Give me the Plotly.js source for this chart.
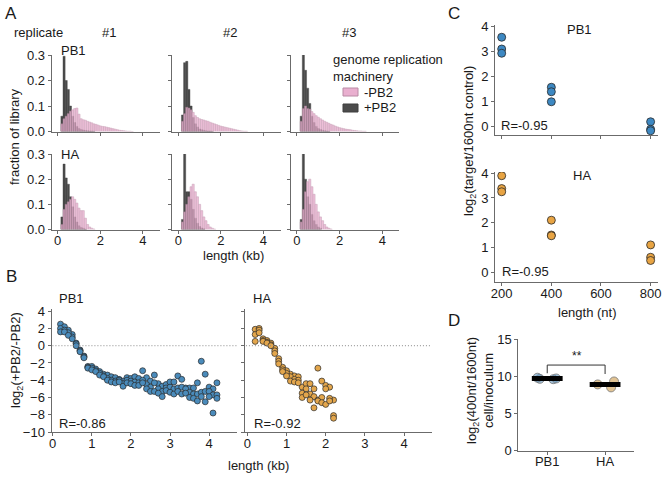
<!DOCTYPE html>
<html><head><meta charset="utf-8">
<script src="https://cdn.plot.ly/plotly-3.0.1.min.js"></script>
<style>html,body{margin:0;padding:0;background:#fff}#chart{width:666px;height:477px}</style>
</head><body><div id="chart"></div>
<script>
// ---------- Panel A: length histograms (fraction of library per 0.1 kb bin) ----------
const histLengthKb = [0.2,0.3,0.4,0.5,0.6,0.7,0.8,0.9,1.0,1.1,1.2,1.3,1.4,1.5,1.6,1.7,1.8,1.9,2.0,2.1,2.2,2.3,2.4,2.5,2.6,2.7,2.8,2.9,3.0,3.1,3.2,3.3,3.4,3.5];
const pb1Rep1Minus = [0.03,0.05,0.06,0.07,0.08,0.085,0.09,0.092,0.068,0.05,0.046,0.044,0.04,0.037,0.034,0.03,0.028,0.025,0.022,0.02,0.019,0.017,0.015,0.013,0.011,0.009,0.007,0.005,0.004,0.003,0.002,0.001,0.001,0];
const pb1Rep1Plus  = [0.06,0.295,0.2,0.165,0.1,0.06,0.035,0.02,0.012,0.008,0.006,0.004,0.003,0.002,0.002,0.001];
const pb1Rep2Minus = [0.04,0.07,0.095,0.092,0.085,0.075,0.062,0.055,0.05,0.047,0.045,0.042,0.04,0.036,0.033,0.03,0.027,0.024,0.021,0.019,0.017,0.015,0.013,0.011,0.009,0.007,0.005,0.003,0.002,0.001,0.001];
const pb1Rep2Plus  = [0.065,0.27,0.275,0.165,0.1,0.055,0.03,0.018,0.01,0.007,0.005,0.003,0.002,0.002,0.001];
const pb1Rep3Minus = [0.04,0.09,0.1,0.09,0.088,0.078,0.07,0.062,0.056,0.05,0.045,0.04,0.036,0.032,0.028,0.025,0.021,0.018,0.015,0.013,0.011,0.009,0.008,0.007,0.005,0.004,0.003,0.002,0.002,0.001,0.001];
const pb1Rep3Plus  = [0.06,0.31,0.24,0.17,0.11,0.06,0.035,0.02,0.012,0.008,0.005,0.003,0.002,0.001];
const haRep1Minus  = [0.02,0.08,0.1,0.11,0.12,0.13,0.12,0.105,0.085,0.075,0.075,0.045,0.02,0.01,0.005,0.002];
const haRep1Plus   = [0.05,0.26,0.205,0.18,0.13,0.09,0.05,0.03,0.015,0.008,0.005,0.002];
const haRep2Minus  = [0.03,0.07,0.1,0.13,0.17,0.18,0.15,0.13,0.1,0.075,0.05,0.035,0.02,0.01,0.005,0.002];
const haRep2Plus   = [0.04,0.31,0.15,0.15,0.12,0.08,0.045,0.025,0.012,0.006,0.003];
const haRep3Minus  = [0.03,0.08,0.15,0.19,0.2,0.17,0.14,0.1,0.07,0.05,0.035,0.02,0.01,0.005,0.002];
const haRep3Plus   = [0.04,0.32,0.2,0.13,0.1,0.06,0.035,0.02,0.01,0.005];
const replicateLabels = ['#1','#2','#3'];
const segmentLabels = ['PB1','HA'];
const legendLabels = ['-PB2','+PB2'];

// ---------- Panel B: log2(+PB2/-PB2) per length, three replicates ----------
const pb1LengthKb = [0.2,0.3,0.4,0.5,0.6,0.7,0.8,0.9,1.0,1.1,1.2,1.3,1.4,1.5,1.6,1.7,1.8,1.9,2.0,2.1,2.2,2.3,2.4,2.5,2.6,2.7,2.8,2.9,3.0,3.1,3.2,3.3,3.4,3.5,3.6,3.7,3.8,3.9,4.0,4.1,4.2];
const pb1RatioA = [2.5,2.2,1.8,1.3,0.3,-0.5,-1.2,-2.4,-2.4,-2.7,-3.0,-3.3,-3.4,-3.6,-3.7,-3.9,-4.1,-3.7,-3.8,-3.6,-3.8,-2.9,-3.7,-4.1,-3.4,-4.4,-4.7,-4.5,-4.2,-4.2,-3.5,-3.9,-4.9,-4.9,-4.9,-4.3,-1.8,-3.3,-4.8,-5.0,-4.3];
const pb1RatioB = [2.0,1.8,1.5,1.0,0.2,-0.6,-1.3,-2.5,-2.6,-2.9,-3.2,-3.5,-3.8,-4.0,-4.1,-4.0,-4.4,-4.0,-4.1,-4.2,-4.3,-4.0,-4.5,-4.8,-4.3,-5.0,-5.3,-4.9,-4.8,-5.0,-4.9,-4.8,-5.0,-5.4,-5.6,-5.6,-5.4,-5.3,-5.3,-5.7,-5.7];
const pb1RatioC = [1.6,1.6,1.2,0.8,0.0,-0.7,-1.4,-2.6,-2.8,-3.0,-3.4,-3.6,-4.0,-4.2,-4.3,-4.2,-4.7,-4.3,-4.4,-4.6,-4.6,-4.3,-5.0,-5.3,-5.3,-5.5,-5.9,-5.2,-5.4,-5.6,-5.3,-5.6,-5.5,-6.0,-6.1,-6.4,-5.9,-6.5,-5.9,-7.8,-6.1];
const haLengthKb = [0.2,0.3,0.4,0.5,0.6,0.7,0.8,0.9,1.0,1.1,1.2,1.3,1.4,1.5,1.6,1.7,1.8,1.9,2.0,2.1,2.2];
const haRatioA = [1.9,2.0,0.8,0.6,0.3,-0.3,-1.5,-2.5,-2.9,-3.3,-3.5,-3.6,-4.8,-4.4,-4.4,-5.0,-2.6,-4.1,-4.6,-4.8,-6.3];
const haRatioB = [1.3,1.8,0.6,0.4,0.1,-0.6,-1.8,-2.8,-3.2,-3.6,-3.9,-4.0,-5.5,-5.0,-5.6,-5.9,-6.3,-6.0,-5.0,-6.1,-8.1];
const haRatioC = [0.5,1.5,0.5,0.3,0.0,-0.9,-2.1,-3.0,-3.5,-4.1,-4.2,-4.3,-6.0,-5.7,-6.3,-7.2,-6.4,-6.6,-6.8,-6.4,-8.4];
const corrB = ['R=-0.86','R=-0.92'];

// ---------- Panel C: log2(target/1600nt control) vs length (nt) ----------
const cLengthNt = [200,200,200,400,400,400,800,800,800];
const cPB1 = [3.55,3.08,2.91,1.55,1.37,0.97,0.17,-0.13,-0.19];
const cHA  = [3.9,3.38,3.25,2.1,1.5,1.47,1.1,0.6,0.47];
const corrC = ['R=-0.95','R=-0.95'];

// ---------- Panel D: log2(400nt/1600nt) cell/inoculum ----------
const dCategories = ['PB1','HA'];
const dPB1 = [9.8,9.6,9.7,9.65];
const dHA  = [9.3,8.9,8.5];
const dSignif = '**';

// ---------- helpers ----------
const W = 666, H = 477;
const px = v => v / W;
const py = v => 1 - v / H;
const FONT = 'Liberation Sans, Arial, Helvetica, sans-serif';
const TXT = '#1a1a1a';
const AX = '#6b6b6b';
const PINK = '#e9afcf', PINKLINE = '#b98aa4', DARK = '#4b4b4b';
const BLUE = '#4a8bbb', ORANGE = '#e3a64c';
const CBLUE = '#3d88c2', CORANGE = '#e8a443';

const baseAx = {showgrid:false, zeroline:false, showline:true, linecolor:AX, linewidth:1,
  ticks:'outside', ticklen:3, tickwidth:1, tickcolor:AX,
  tickfont:{size:13, color:TXT, family:FONT}, fixedrange:true};
function xa(l, r, range, anchor, extra) {
  return Object.assign({}, baseAx, {domain:[px(l), px(r)], range, anchor, ticklabelstandoff:-4}, extra || {});
}
function ya(bottom, top, range, anchor, extra) {
  return Object.assign({}, baseAx, {domain:[py(bottom), py(top)], range, anchor}, extra || {});
}
function note(text, x, y, o) {
  o = o || {};
  return {text, xref:'paper', yref:'paper', x:px(x), y:py(y), showarrow:false,
    xanchor:o.xa || 'left', yanchor:'middle', textangle:o.rot || 0,
    font:{size:o.size || 13, color:TXT, family:FONT}};
}

const traces = [];
// Panel A
const histSets = [
  [pb1Rep1Minus, pb1Rep1Plus], [pb1Rep2Minus, pb1Rep2Plus], [pb1Rep3Minus, pb1Rep3Plus],
  [haRep1Minus, haRep1Plus], [haRep2Minus, haRep2Plus], [haRep3Minus, haRep3Plus]
];
histSets.forEach((pair, i) => {
  const n = i + 1;
  const xr = n === 1 ? 'x' : 'x' + n, yr = n === 1 ? 'y' : 'y' + n;
  traces.push({type:'bar', x:histLengthKb, y:pair[1], width:0.1, xaxis:xr, yaxis:yr,
    name:legendLabels[1], marker:{color:DARK, line:{color:'#3f3f3f', width:0.4}}, hoverinfo:'x+y'});
  traces.push({type:'bar', x:histLengthKb, y:pair[0], width:0.1, xaxis:xr, yaxis:yr,
    name:legendLabels[0], opacity:0.8, marker:{color:PINK, line:{color:PINKLINE, width:0.5}}, hoverinfo:'x+y'});
});
// Panel B
const bMarker = (c) => ({size:6, color:c, line:{color:'#2a2a2a', width:0.7}});
[pb1RatioA, pb1RatioB, pb1RatioC].forEach(r => traces.push({type:'scatter', mode:'markers',
  x:pb1LengthKb, y:r, xaxis:'x7', yaxis:'y7', marker:bMarker(BLUE), name:'PB1'}));
[haRatioA, haRatioB, haRatioC].forEach(r => traces.push({type:'scatter', mode:'markers',
  x:haLengthKb, y:r, xaxis:'x8', yaxis:'y8', marker:bMarker(ORANGE), name:'HA'}));
// Panel C
traces.push({type:'scatter', mode:'markers', x:cLengthNt, y:cPB1, xaxis:'x9', yaxis:'y9',
  marker:{size:8, color:CBLUE, line:{color:'#2a2a2a', width:0.8}}, name:'PB1'});
traces.push({type:'scatter', mode:'markers', x:cLengthNt, y:cHA, xaxis:'x10', yaxis:'y10',
  marker:{size:8, color:CORANGE, line:{color:'#2a2a2a', width:0.8}}, name:'HA'});
// Panel D (strip plot via box points, box itself hidden)
[[dPB1, dCategories[0], 'rgba(100,150,190,0.6)'], [dHA, dCategories[1], 'rgba(205,155,75,0.6)']].forEach(([vals, cat, col]) => {
  traces.push({type:'box', x:vals.map(() => cat), y:vals, xaxis:'x11', yaxis:'y11',
    boxpoints:'all', jitter:0.8, pointpos:0, width:0.5, whiskerwidth:0,
    line:{width:0, color:'rgba(0,0,0,0)'}, fillcolor:'rgba(0,0,0,0)',
    marker:{size:9, color:col, line:{color:'#777', width:0.8}}, name:cat, hoveron:'points'});
});
const mean = a => a.reduce((s, v) => s + v, 0) / a.length;
traces.push({type:'scatter', mode:'markers', x:dCategories, y:[mean(dPB1), mean(dHA)], xaxis:'x11', yaxis:'y11',
  marker:{symbol:'line-ew', size:22, line:{color:'#000', width:5}}, name:'mean'});

// ---------- layout ----------
const colPx = [[51.7, 160], [172.3, 280.5], [291, 399.3]];
const rowPx = [[131.5, 55], [229.5, 154]];
const layout = {width:W, height:H, margin:{l:0, r:0, t:0, b:0}, showlegend:false,
  paper_bgcolor:'#fff', plot_bgcolor:'rgba(0,0,0,0)', barmode:'overlay', bargap:0,
  font:{family:FONT, color:TXT, size:13}, annotations:[], shapes:[]};
for (let r = 0; r < 2; r++) for (let c = 0; c < 3; c++) {
  const n = r * 3 + c + 1;
  const xk = n === 1 ? 'xaxis' : 'xaxis' + n, yk = n === 1 ? 'yaxis' : 'yaxis' + n;
  const xr = n === 1 ? 'x' : 'x' + n, yr = n === 1 ? 'y' : 'y' + n;
  layout[xk] = xa(colPx[c][0], colPx[c][1], [-0.28, 4.8], yr, {tickvals:[0,2,4], showticklabels:r === 1});
  layout[yk] = ya(rowPx[r][0], rowPx[r][1], [0, 0.3], xr, {tickvals:[0,0.1,0.2,0.3], tickformat:'.1f', showticklabels:c === 0});
}
layout.xaxis7 = xa(51.5, 236.5, [-0.03, 4.7], 'y7', {tickvals:[0,1,2,3,4]});
layout.yaxis7 = ya(432, 308.6, [-10, 4.3], 'x7', {tickvals:[-10,-8,-6,-4,-2,0,2,4]});
layout.xaxis8 = xa(245, 431.5, [-0.06, 4.7], 'y8', {tickvals:[0,1,2,3,4]});
layout.yaxis8 = ya(432, 308.6, [-10, 4.3], 'x8', {tickvals:[-10,-8,-6,-4,-2,0,2,4], showticklabels:false});
layout.xaxis9 = xa(495, 658.3, [173, 831], 'y9', {tickvals:[200,400,600,800], showticklabels:false});
layout.yaxis9 = ya(135, 25, [-0.36, 4.04], 'x9', {tickvals:[0,1,2,3,4]});
layout.xaxis10 = xa(495, 658.3, [173, 831], 'y10', {tickvals:[200,400,600,800]});
layout.yaxis10 = ya(282, 172, [-0.4, 4.05], 'x10', {tickvals:[0,1,2,3,4]});
layout.xaxis11 = xa(518.3, 634, [-0.5, 1.5], 'y11', {type:'category', categoryarray:dCategories, categoryorder:'array'});
layout.yaxis11 = ya(450.7, 339, [0, 15], 'x11', {tickvals:[0,5,10,15]});

const A = layout.annotations;
A.push(note('A', 3, 14, {size:17}));
A.push(note('B', 4, 276, {size:17}));
A.push(note('C', 446, 13, {size:17}));
A.push(note('D', 446, 320, {size:17}));
A.push(note('replicate', 12, 33));
A.push(note(replicateLabels[0], 109, 33, {xa:'center'}));
A.push(note(replicateLabels[1], 230, 32, {xa:'center'}));
A.push(note(replicateLabels[2], 349, 33, {xa:'center'}));
A.push(note(segmentLabels[0], 59, 50));
A.push(note(segmentLabels[1], 59, 154));
A.push(note('fraction of library', 14, 137, {rot:-90, xa:'center'}));
A.push(note('length (kb)', 233, 255, {xa:'center'}));
A.push(note('genome replication', 331, 60));
A.push(note('machinery', 331, 76));
A.push(note(legendLabels[0], 362, 92));
A.push(note(legendLabels[1], 362, 108));
A.push(note(segmentLabels[0], 57, 298));
A.push(note(segmentLabels[1], 251, 298));
A.push(note(corrB[0], 57, 423));
A.push(note(corrB[1], 252, 423));
A.push(note('length (kb)', 258, 465, {xa:'center'}));
A.push(note('log<sub>2</sub>(+PB2/-PB2)', 16, 360, {rot:-90, xa:'center'}));
A.push(note(segmentLabels[0], 579, 30, {xa:'center'}));
A.push(note(segmentLabels[1], 582, 175, {xa:'center'}));
A.push(note(corrC[0], 499, 126));
A.push(note(corrC[1], 500, 271));
A.push(note('length (nt)', 587, 312, {xa:'center'}));
A.push(note('log<sub>2</sub>(target/1600nt control)', 470, 141, {rot:-90, xa:'center'}));
A.push(note('log<sub>2</sub>(400nt/1600nt)<br>cell/inoculum', 480, 391, {rot:-90, xa:'center'}));
A.push(note(dSignif, 577, 356, {xa:'center', size:12}));

const S = layout.shapes;
S.push({type:'rect', xref:'paper', yref:'paper', x0:px(343), x1:px(358), y0:py(96), y1:py(88), fillcolor:PINK, line:{color:PINKLINE, width:1}});
S.push({type:'rect', xref:'paper', yref:'paper', x0:px(343), x1:px(358), y0:py(112), y1:py(104), fillcolor:DARK, line:{color:'#3f3f3f', width:1}});
['7','8'].forEach(k => S.push({type:'line', xref:'x' + k + ' domain', yref:'y' + k, x0:0.005, x1:1, y0:0, y1:0,
  line:{color:'#8a8a8a', width:1, dash:'1px,2px'}}));
S.push({type:'path', xref:'x11', yref:'y11', path:'M 0,10.4 L 0,11.5 L 1,11.5 L 1,10.3',
  line:{color:'#333', width:1}});

Plotly.newPlot('chart', traces, layout, {staticPlot:true, displayModeBar:false});
</script></body></html>
